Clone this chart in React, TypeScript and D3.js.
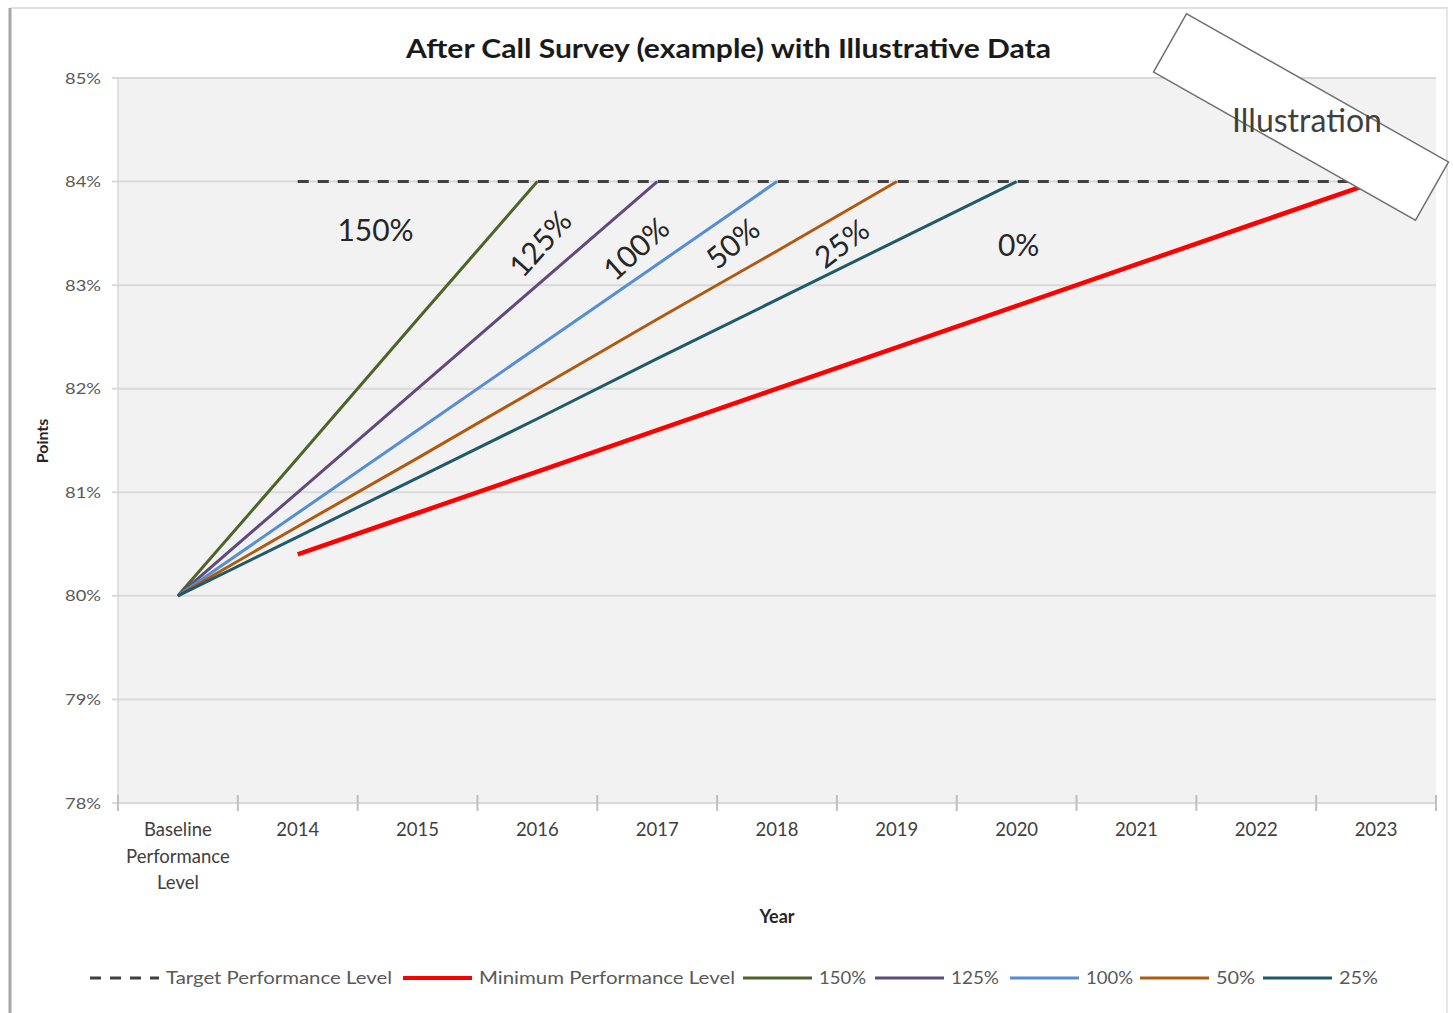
import React from "react";
import * as d3 from "d3";

const categories = ["Baseline Performance Level", "2014", "2015", "2016", "2017", "2018", "2019", "2020", "2021", "2022", "2023"];
const yTicks = [78, 79, 80, 81, 82, 83, 84, 85];

const targetLevel: (number | null)[] = [null, 84, 84, 84, 84, 84, 84, 84, 84, 84, 84];
const minimumLevel: (number | null)[] = [null, 80.4, 80.8, 81.2, 81.6, 82.0, 82.4, 82.8, 83.2, 83.6, 84.0];
const s150: (number | null)[] = [80, 81.33, 82.67, 84, null, null, null, null, null, null, null];
const s125: (number | null)[] = [80, 81, 82, 83, 84, null, null, null, null, null, null];
const s100: (number | null)[] = [80, 80.8, 81.6, 82.4, 83.2, 84, null, null, null, null, null];
const s50: (number | null)[] = [80, 80.67, 81.33, 82, 82.67, 83.33, 84, null, null, null, null];
const s25: (number | null)[] = [80, 80.57, 81.14, 81.71, 82.29, 82.86, 83.43, 84, null, null, null];

const seriesNames = ["Target Performance Level", "Minimum Performance Level", "150%", "125%", "100%", "50%", "25%"];
const seriesColors = ["#404040", "#FF0000", "#4F6228", "#604A7B", "#558ED5", "#B05A10", "#1F5A6B"];
const seriesValues = [targetLevel, minimumLevel, s150, s125, s100, s50, s25];

const annotations = [
  { text: "150%", cat: "2015", val: 83.53, rot: 0 },
  { text: "125%", cat: "2016", val: 83.4, rot: -48 },
  { text: "100%", cat: "2017", val: 83.35, rot: -42 },
  { text: "50%", cat: "2018", val: 83.4, rot: -40 },
  { text: "25%", cat: "2019", val: 83.4, rot: -37 },
  { text: "0%", cat: "2020", val: 83.38, rot: 0 },
];
const annotationDx = [-42, 3, -21, -44, -55, 2];

const FONT = "Lato, 'Open Sans', sans-serif";

export default function App() {
  const W = 1453, H = 1013;
  const left = 118, right = 1436, top = 78, bottom = 803;
  const x = d3.scaleBand<string>().domain(categories).range([left, right]).paddingInner(0).paddingOuter(0);
  const bw = x.bandwidth();
  const cx = (c: string) => (x(c) as number) + bw / 2;
  const y = d3.scaleLinear().domain([78, 85]).range([bottom, top]);

  const line = d3
    .line<number | null>()
    .defined((d) => d !== null)
    .x((_, i) => cx(categories[i]))
    .y((d) => y(d as number));

  const legendX = [90, 403, 743, 875, 1010, 1140, 1263];
  const legendTextLen = [226, 256, 47, 48, 47, 39, 39];
  const legendLine = 69;

  return (
    <svg width={W} height={H} style={{ position: "absolute", left: 0, top: 0, background: "#fff" }} fontFamily={FONT}>
      <rect x={0} y={0} width={W} height={H} fill="#fff" />
      <line x1={10} y1={8} x2={1448} y2={8} stroke="#E0E0E0" strokeWidth={2} />
      <line x1={10} y1={8} x2={10} y2={H} stroke="#A6A6A6" strokeWidth={3} />
      <line x1={1447} y1={8} x2={1447} y2={H} stroke="#E6E6E6" strokeWidth={2} />

      <rect x={left} y={top} width={right - left} height={bottom - top} fill="#F2F2F2" />
      {yTicks.map((t) => (
        <g key={t}>
          <line x1={left} x2={right} y1={y(t)} y2={y(t)} stroke="#D9D9D9" strokeWidth={2} />
          <line x1={left - 6} x2={left} y1={y(t)} y2={y(t)} stroke="#D9D9D9" strokeWidth={2} />
          <text x={left - 17} y={y(t)} dy="0.35em" textAnchor="end" fontSize={16} fill="#595959" textLength={36} lengthAdjust="spacingAndGlyphs">
            {t}%
          </text>
        </g>
      ))}
      <line x1={left} x2={left} y1={top} y2={bottom} stroke="#D9D9D9" strokeWidth={1.5} />
      {categories.concat(["__end"]).map((c, i) => {
        const xx = left + i * bw;
        return <line key={"xt" + i} x1={xx} x2={xx} y1={bottom - 8} y2={bottom + 8} stroke="#BFBFBF" strokeWidth={2} />;
      })}
      {categories.map((c) => {
        const parts = c === categories[0] ? ["Baseline", "Performance", "Level"] : [c];
        return (
          <text key={c} x={cx(c)} y={836} textAnchor="middle" fontSize={18.5} fill="#404040">
            {parts.map((p, i) => (
              <tspan key={i} x={cx(c)} dy={i === 0 ? 0 : 26.5}>
                {p}
              </tspan>
            ))}
          </text>
        );
      })}

      {seriesValues.map((vals, i) => (
        <path
          key={seriesNames[i]}
          d={line(vals) || ""}
          fill="none"
          stroke={seriesColors[i]}
          strokeWidth={i === 1 ? 4.5 : 3}
          strokeDasharray={i === 0 ? "11,9" : undefined}
          strokeLinecap="butt"
        />
      ))}

      {annotations.map((a, i) => {
        const ax = cx(a.cat) + annotationDx[i];
        const ay = y(a.val);
        return (
          <text
            key={a.text}
            x={0}
            y={0}
            transform={`translate(${ax},${ay}) rotate(${a.rot})`}
            textAnchor="middle"
            dy="0.35em"
            fontSize={30}
            fill="#262626"
          >
            {a.text}
          </text>
        );
      })}

      <text x={728.5} y={49} textAnchor="middle" dy="0.35em" fontSize={26} fontWeight="bold" fill="#1a1a1a" textLength={645} lengthAdjust="spacingAndGlyphs">
        After Call Survey (example) with Illustrative Data
      </text>

      <text x={777} y={917} textAnchor="middle" dy="0.35em" fontSize={18} fontWeight="bold" fill="#262626">
        Year
      </text>
      <text transform="translate(42,441) rotate(-90)" textAnchor="middle" dy="0.35em" fontSize={16} fontWeight="bold" fill="#262626">
        Points
      </text>

      {seriesNames.map((n, i) => (
        <g key={"lg" + i}>
          <line
            x1={legendX[i]}
            x2={legendX[i] + legendLine}
            y1={978}
            y2={978}
            stroke={seriesColors[i]}
            strokeWidth={i === 1 ? 4 : 3}
            strokeDasharray={i === 0 ? "11,9" : undefined}
          />
          <text
            x={legendX[i] + legendLine + 7}
            y={978}
            dy="0.35em"
            fontSize={18}
            fill="#595959"
            textLength={legendTextLen[i]}
            lengthAdjust="spacingAndGlyphs"
          >
            {n}
          </text>
        </g>
      ))}

      <g transform="translate(1301,117) rotate(29.5)">
        <rect x={-150.5} y={-33.5} width={301} height={67} fill="#fff" stroke="#707070" strokeWidth={1.5} />
      </g>
      <text x={1307} y={121} textAnchor="middle" dy="0.35em" fontSize={32} fill="#404040">
        Illustration
      </text>
    </svg>
  );
}
